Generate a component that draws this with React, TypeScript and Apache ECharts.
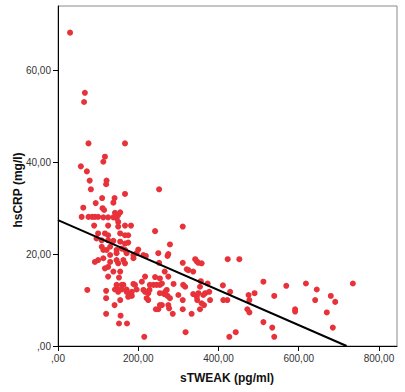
import React, { useEffect, useRef } from "react";
import * as echarts from "echarts";

// sTWEAK (pg/ml) values
const sTweak: number[] = [
  30, 67, 65, 76, 167, 117, 113, 57, 72, 79, 121, 120, 82, 167, 252, 110, 141,
  94, 138, 63, 111, 115, 142, 155,
  59, 76, 85, 92, 100, 113, 125, 138, 146, 150, 150,
  90, 125, 150, 167, 182, 311, 242,
  100, 117, 125, 155, 167, 175,
  96, 109, 125, 138, 155, 167, 175, 279,
  109, 113, 121, 130, 146, 159, 167, 171, 200,
  130, 146, 188, 196, 213, 250, 275, 273, 219,
  92, 100, 113, 130, 146, 150, 163, 167, 188, 252, 311, 342, 350, 358, 346, 423, 452,
  117, 125, 321,
  138, 155, 266, 325, 337,
  125, 152, 217, 242, 254, 275,
  209, 356, 373, 512,
  188, 146, 159, 163, 192, 229, 238, 246, 254, 259, 288, 312, 317, 354, 411, 569, 618, 735,
  73, 120, 142, 150, 159, 171, 196, 213, 228, 271, 645, 377, 429,
  150, 171, 184, 217, 225, 254, 265, 267, 273, 300, 337, 346, 350, 362, 367, 475, 490,
  120, 155, 175, 184, 177, 221, 225, 279, 311, 347, 358, 379, 412, 422, 477, 539, 641, 680, 691,
  141, 259, 254, 275, 364,
  244, 250, 277, 311, 354, 472, 477, 591, 591, 670,
  120, 156, 286, 333,
  152, 172, 512,
  534, 685,
  318, 443,
  215, 427, 539,
];

// hsCRP (mg/l) values
const hsCrp: number[] = [
  68.2, 55.1, 53.1, 44.1, 44.1, 41.2, 40.1, 39.1, 38.0, 36.0, 36.0, 35.2, 34.1, 33.1, 34.1, 32.2, 32.2,
  31.1, 31.2, 30.1, 30.0, 29.6, 29.0, 29.1,
  28.1, 28.1, 28.1, 28.1, 28.1, 28.0, 28.0, 28.0, 27.8, 28.5, 27.0,
  26.2, 26.2, 26.0, 26.2, 26.2, 26.0, 25.0,
  24.5, 24.5, 24.1, 24.5, 24.1, 24.1,
  23.4, 23.0, 23.0, 22.9, 22.7, 22.3, 22.5, 22.1,
  21.6, 20.9, 20.9, 21.6, 20.9, 21.2, 20.9, 20.2, 21.0,
  19.8, 20.2, 19.8, 20.2, 19.8, 20.2, 20.0, 19.6, 19.6,
  18.3, 18.7, 19.1, 18.3, 18.7, 18.0, 18.7, 18.0, 19.1, 18.1, 18.1, 18.9, 18.1, 18.0, 18.4, 18.9, 18.9,
  16.9, 17.2, 16.7,
  16.2, 16.2, 16.2, 16.5, 16.2,
  15.1, 14.9, 15.1, 15.0, 14.7, 15.1,
  14.0, 14.1, 13.6, 14.0,
  13.5, 13.3, 13.3, 13.3, 13.3, 13.3, 13.3, 13.3, 13.3, 13.6, 13.5, 13.3, 12.9, 12.9, 13.2, 13.1, 13.6, 13.6,
  12.2, 12.0, 12.3, 12.3, 12.3, 12.3, 12.3, 12.2, 12.2, 12.2, 12.3, 11.8, 11.8,
  11.8, 11.8, 11.8, 11.8, 11.5, 11.5, 11.3, 11.8, 10.9, 11.1, 11.3, 10.7, 11.5, 11.1, 11.5, 11.1, 11.5,
  10.4, 10.0, 10.7, 10.9, 11.1, 10.4, 10.0, 10.4, 10.0, 10.0, 9.3, 10.0, 10.0, 10.0, 10.0, 10.9, 10.0, 10.9, 9.6,
  8.9, 8.9, 8.9, 8.9, 8.9,
  8.0, 8.0, 8.2, 8.0, 8.0, 8.0, 7.3, 8.0, 7.5, 7.3,
  7.0, 6.6, 7.0, 7.0,
  4.9, 4.9, 5.2,
  4.0, 4.0,
  3.0, 3.0,
  2.0, 2.0, 2.0,
];

// Fit line end points (x, y)
const fitX: number[] = [0, 719.5];
const fitY: number[] = [27.4, 0];

const xTicks: number[] = [0, 200, 400, 600, 800];
const yTicks: number[] = [0, 20, 40, 60];

const fmt = (v: number) => (v === 0 ? ",00" : `${v},00`);

export default function App() {
  const ref = useRef<HTMLDivElement>(null);
  useEffect(() => {
    if (!ref.current) return;
    const chart = echarts.init(ref.current, undefined, { renderer: "svg" });
    const points = sTweak.map((x, i) => [x, hsCrp[i]]);
    const fit = fitX.map((x, i) => [x, fitY[i]]);
    chart.setOption({
      animation: false,
      backgroundColor: "#ffffff",
      grid: {
        left: 58,
        right: 8,
        top: 6,
        bottom: 46,
        show: true,
        borderColor: "#8a8a8a",
        borderWidth: 1,
        backgroundColor: "#ffffff",
      },
      xAxis: {
        type: "value",
        min: 0,
        max: 845,
        interval: 200,
        splitLine: { show: false },
        axisLine: { show: true, lineStyle: { color: "#000", width: 1 } },
        axisTick: {
          show: true,
          length: 5,
          customValues: xTicks,
          lineStyle: { color: "#000" },
        },
        axisLabel: {
          customValues: xTicks,
          formatter: (v: number) => fmt(v),
          margin: 7,
          fontFamily: "Liberation Sans",
          fontSize: 10,
          color: "#333",
        },
      },
      yAxis: {
        type: "value",
        min: 0,
        max: 74,
        interval: 20,
        splitLine: { show: false },
        axisLine: { show: true, lineStyle: { color: "#000", width: 1 } },
        axisTick: {
          show: true,
          length: 5,
          customValues: yTicks,
          lineStyle: { color: "#000" },
        },
        axisLabel: {
          customValues: yTicks,
          formatter: (v: number) => fmt(v),
          margin: 7,
          fontFamily: "Liberation Sans",
          fontSize: 10,
          color: "#333",
        },
      },
      graphic: [
        {
          type: "text",
          x: 18,
          y: 190,
          rotation: Math.PI / 2,
          style: {
            text: "hsCRP (mg/l)",
            fontFamily: "Liberation Sans",
            fontSize: 12,
            fontWeight: "bold",
            fill: "#111",
            textAlign: "center",
            textVerticalAlign: "middle",
          },
        },
        {
          type: "text",
          x: 227,
          y: 378,
          style: {
            text: "sTWEAK (pg/ml)",
            fontFamily: "Liberation Sans",
            fontSize: 12,
            fontWeight: "bold",
            fill: "#111",
            textAlign: "center",
            textVerticalAlign: "middle",
          },
        },
      ],
      series: [
        {
          type: "scatter",
          data: points,
          symbol: "circle",
          symbolSize: 6,
          itemStyle: { color: "#e8323a", opacity: 1 },
          z: 2,
        },
        {
          type: "line",
          data: fit,
          symbol: "none",
          lineStyle: { color: "#000", width: 2 },
          z: 3,
        },
      ],
    });
    return () => chart.dispose();
  }, []);
  return (
    <div
      ref={ref}
      style={{ position: "fixed", left: 0, top: 0, width: 405, height: 392 }}
    />
  );
}
